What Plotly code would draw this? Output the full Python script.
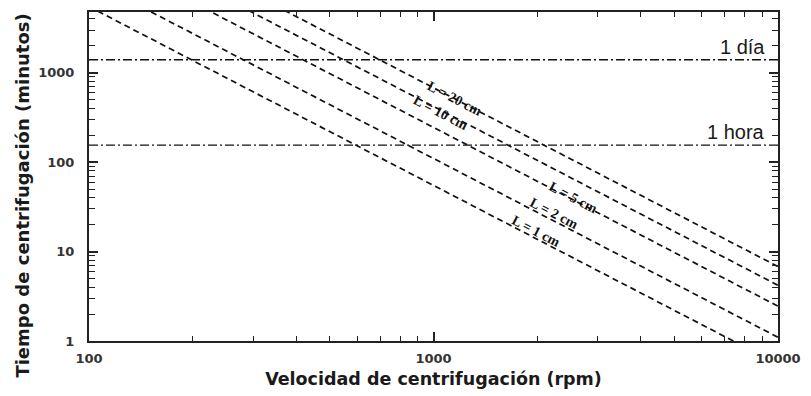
import math
import plotly.graph_objects as go

# Centrifugation time vs. rotor speed for several column lengths L
speed_rpm = [100, 10000]
lengths = ["L = 1 cm", "L = 2 cm", "L = 5 cm", "L = 10 cm", "L = 20 cm"]
time_at_100rpm = [5500, 11000, 24500, 42000, 68000]      # minutes
time_at_10000rpm = [0.55, 1.1, 2.45, 4.2, 6.8]           # minutes

# Reference durations (minutes)
ref_labels = ["1 día", "1 hora"]
ref_times = [1400, 155]

# Where the length labels sit along each line (rpm) and a small vertical nudge
label_speed = [1990, 2240, 2540, 1045, 1150]
label_lift = [1.22, 1.22, 1.05, 0.93, 1.0]

fig = go.Figure()

for name, t0, t1 in zip(lengths, time_at_100rpm, time_at_10000rpm):
    fig.add_trace(go.Scatter(
        x=speed_rpm, y=[t0, t1], mode="lines", name=name,
        line=dict(color="#111111", width=1.7, dash="6px,4px"),
        showlegend=False, hoverinfo="skip"))

for lab, t in zip(ref_labels, ref_times):
    fig.add_trace(go.Scatter(
        x=speed_rpm, y=[t, t], mode="lines", name=lab,
        line=dict(color="#111111", width=1.3, dash="9px,3px,2px,3px"),
        showlegend=False, hoverinfo="skip"))
    fig.add_annotation(x=3.926, y=math.log10(t), xref="x", yref="y",
                       text=lab, showarrow=False, xanchor="right", yanchor="bottom",
                       xshift=14, yshift=0,
                       font=dict(family="Liberation Sans, Arial", size=20, color="#1a1a1a"))

for name, s, t0, lift in zip(lengths, label_speed, time_at_100rpm, label_lift):
    # point on the line t = t0 * (100/s)^2
    t = t0 * (100.0 / s) ** 2 * lift
    fig.add_annotation(x=math.log10(s), y=math.log10(t), xref="x", yref="y",
                       text=name, showarrow=False, textangle=27.5,
                       font=dict(family="Liberation Serif, Times New Roman", size=14,
                                 color="#111111", weight="bold"))


def minor_positions(first_decade, last_decade):
    """2..9 times each power of ten between the given decades."""
    vals = []
    for p in range(first_decade, last_decade):
        for d in range(2, 10):
            vals.append(d * 10 ** p)
    return vals


def axis_style(minor_vals, minor_len):
    return dict(
        type="log", showgrid=False, zeroline=False,
        showline=True, linecolor="#222222", linewidth=2, mirror="allticks",
        ticks="inside", ticklen=9, tickwidth=1.6, tickcolor="#222222",
        dtick=1, tickformat="d", ticklabeloverflow="allow",
        minor=dict(ticks="inside", ticklen=minor_len, tickwidth=1.4, tickcolor="#222222",
                   tickmode="array", tickvals=minor_vals, showgrid=False),
        tickfont=dict(family="DejaVu Sans, Arial", size=13, color="#333333", weight="bold"),
    )


title_font = dict(family="DejaVu Sans, Arial", color="#1a1a1a", weight="bold")

fig.update_xaxes(**axis_style(minor_positions(2, 4), 5), range=[2, 4], ticklabelstandoff=4,
                 title=dict(text="Velocidad de centrifugación (rpm)", standoff=8,
                            font=dict(size=17.5, **title_font)))
fig.update_yaxes(**axis_style(minor_positions(0, 4), 6), range=[0, 3.68], ticklabelstandoff=10)

# vertical axis title, placed a little below the plot's mid-height
fig.add_annotation(text="Tiempo de centrifugación (minutos)", textangle=-90,
                   xref="paper", yref="paper", x=0, y=0.442, xshift=-66,
                   xanchor="center", yanchor="middle", showarrow=False,
                   font=dict(size=18, **title_font))

fig.update_layout(
    width=811, height=396,
    margin=dict(l=89, r=23, t=10, b=51),
    paper_bgcolor="white", plot_bgcolor="white",
)

fig.write_html("out.html")
